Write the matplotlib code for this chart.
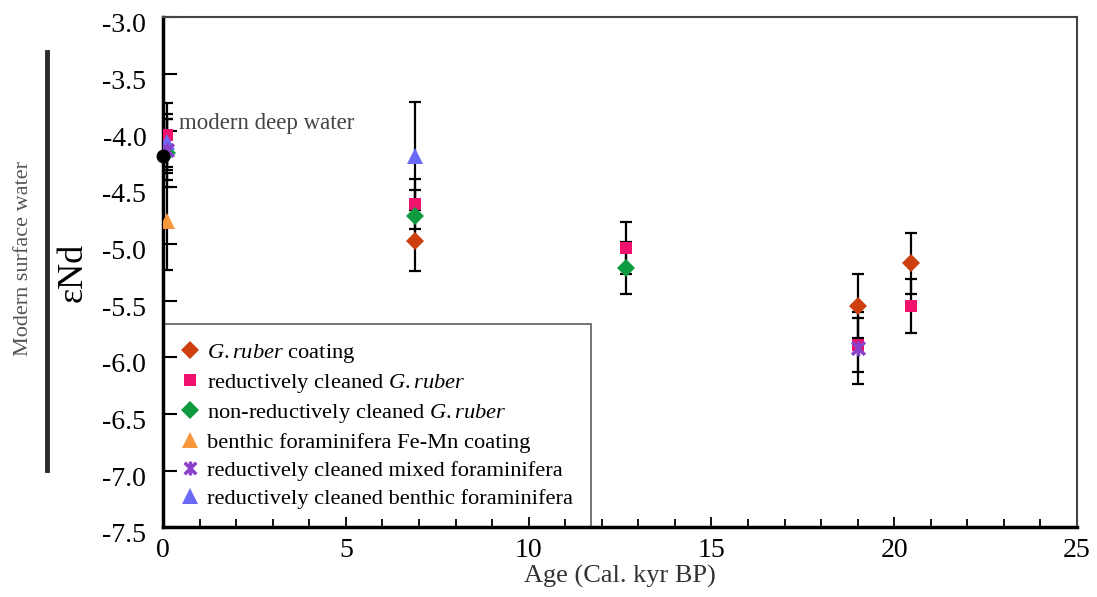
import matplotlib
matplotlib.use("Agg")
import matplotlib.pyplot as plt
from matplotlib.path import Path
from matplotlib.lines import Line2D
from matplotlib.transforms import ScaledTranslation

plt.rcParams['font.family'] = ['Liberation Serif', 'DejaVu Serif']
plt.rcParams['mathtext.fontset'] = 'custom'
plt.rcParams['mathtext.rm'] = 'Liberation Serif'
plt.rcParams['mathtext.it'] = 'Liberation Serif:italic'

# ---------------- data ----------------
labels = [
    r"$\mathit{G{.}ruber}$ coating",
    r"reductively cleaned $\mathit{G{.}ruber}$",
    r"non-reductively cleaned $\mathit{G{.}ruber}$",
    "benthic foraminifera Fe-Mn coating",
    "reductively cleaned mixed foraminifera",
    "reductively cleaned benthic foraminifera",
]

coating_age = [6.9, 19.0, 20.45]
coating_end = [-4.97, -5.55, -5.17]
coating_err = [0.27, 0.28, 0.27]

red_ruber_age = [0.1, 6.9, 12.65, 19.0, 20.45]
red_ruber_end = [-4.04, -4.65, -5.04, -5.89, -5.55]
red_ruber_err = [0.28, 0.22, 0.23, 0.24, 0.24]

nonred_age = [0.1, 6.9, 12.65]
nonred_end = [-4.20, -4.75, -5.21]
nonred_err = [0.30, 0.23, 0.23]

femn_age = [0.1]
femn_end = [-4.80]
femn_err = [0.43]

mixed_age = [0.1, 19.0]
mixed_end = [-4.17, -5.92]
mixed_err = [0.27, 0.32]

benthic_age = [0.1, 6.9]
benthic_end = [-4.10, -4.22]
benthic_err = [0.25, 0.47]

deep_age = [0.0]
deep_end = [-4.22]

# asterisk-like marker: X with vertical bar
star = Path([(-1, -1), (1, 1), (-1, 1), (1, -1), (0, -1.2), (0, 1.2)],
            [Path.MOVETO, Path.LINETO, Path.MOVETO, Path.LINETO, Path.MOVETO, Path.LINETO])

series = [
    (coating_age, coating_end, coating_err, 'D', '#CC4010', 9),
    (red_ruber_age, red_ruber_end, red_ruber_err, 's', '#F0126C', 9),
    (nonred_age, nonred_end, nonred_err, 'D', '#0E9A3E', 9),
    (femn_age, femn_end, femn_err, '^', '#F8963C', 11),
    (mixed_age, mixed_end, mixed_err, star, '#8A40C8', 11),
    (benthic_age, benthic_end, benthic_err, '^', '#6A6AF6', 11),
]

fig = plt.figure(figsize=(10.97, 5.97), dpi=100)
ax = fig.add_axes([0.1486, 0.117, 0.8332, 0.854])

# error bars first, markers on top
for age, end, err, m, c, ms in series:
    ax.errorbar(age, end, yerr=err, fmt='none', ecolor='black', elinewidth=1.6,
                capsize=4.5, capthick=1.6, zorder=2)

handles = []
for (age, end, err, m, c, ms), lab in zip(series, labels):
    if m is star:
        ax.plot(age, end, linestyle='none', marker=m, markersize=ms, markeredgecolor=c,
                markerfacecolor='none', markeredgewidth=2.5, zorder=4)
        h = Line2D([], [], linestyle='none', marker=m, markersize=10, markeredgecolor=c,
                   markeredgewidth=2.5, label=lab)
    else:
        ax.plot(age, end, linestyle='none', marker=m, markersize=ms, color=c,
                markeredgewidth=0, zorder=3)
        h = Line2D([], [], linestyle='none', marker=m, markersize=ms, color=c,
                   markeredgewidth=0, label=lab)
    handles.append(h)

ax.plot(deep_age, deep_end, 'o', color='black', markersize=9, zorder=5, clip_on=False)
ax.text(0.45, -3.94, "modern deep water", fontsize=16.5, color='#444444', va='center', ha='left')

ax.set_xlim(0, 25)
ax.set_ylim(-7.5, -3.0)
ax.set_xticks(range(0, 26, 5))
ax.set_xticks(range(0, 26), minor=True)
ax.set_yticks([-3.0 - 0.5 * i for i in range(10)])
ax.set_yticklabels([f"{-3.0 - 0.5 * i:.1f}" for i in range(10)])

ax.tick_params(axis='both', which='both', direction='in', labelsize=20, color='black')
ax.tick_params(axis='x', which='major', length=7, width=1.3, pad=8)
ax.tick_params(axis='x', which='minor', length=6, width=1.3)
ax.tick_params(axis='y', which='major', length=10, width=1.5, pad=12)

# y tick labels sit a little below their ticks in the original
shift = ScaledTranslation(0, -4 / 72, fig.dpi_scale_trans)
for lbl in ax.get_yticklabels():
    lbl.set_transform(lbl.get_transform() + shift)

for s in ['left', 'bottom']:
    ax.spines[s].set_linewidth(2.5)
    ax.spines[s].set_color('black')
for s in ['top', 'right']:
    ax.spines[s].set_linewidth(1.5)
    ax.spines[s].set_color('#444444')

ax.set_xlabel("Age (Cal. kyr BP)", fontsize=19, color='#333333', labelpad=1)
ax.set_ylabel("εNd", fontsize=26, labelpad=9)

leg = ax.legend(handles=handles, loc='lower left', bbox_to_anchor=(0, 0), borderaxespad=0,
                fontsize=16.2, frameon=True, fancybox=False, edgecolor='#444444',
                handlelength=0.8, handletextpad=0.35, labelspacing=0.32,
                borderpad=0.8)
leg.get_frame().set_linewidth(1.3)
leg.set_zorder(1)

# modern surface water bar
fig.add_artist(Line2D([47 / 1097, 47 / 1097], [1 - 52 / 597, 1 - 470 / 597],
                      color='#2E2A2A', linewidth=3.5))
fig.text(24 / 1097, 1 - 258 / 597, "Modern surface water", rotation=90, fontsize=16,
         color='#555555', ha='center', va='center')

fig.savefig("out.png", dpi=100)
